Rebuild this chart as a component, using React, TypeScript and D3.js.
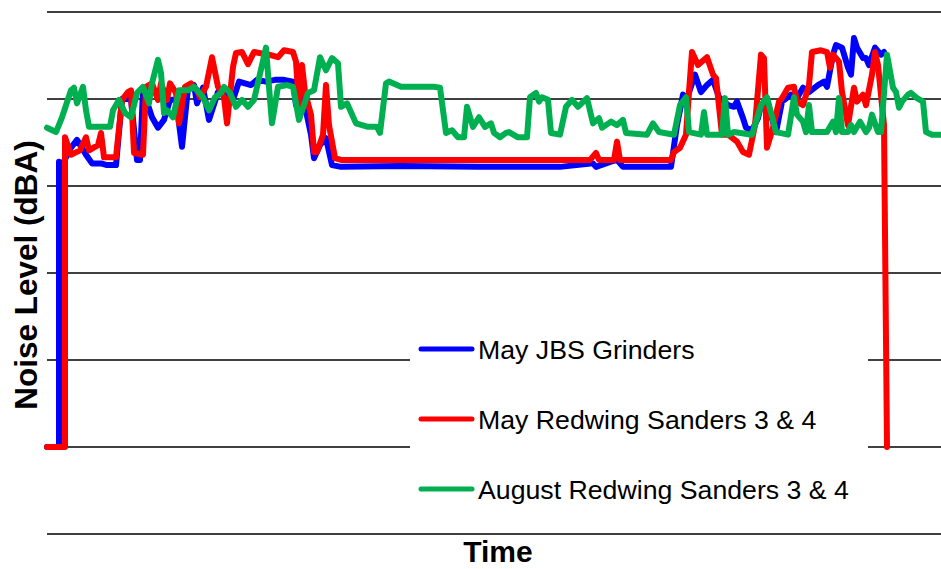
import React from "react";
import * as d3 from "d3";

// Time (minutes) and noise level (dBA)
const mayJbsGrinders: [number, number][] = [
  [0,50],[4,50],[4,82.8],[5,82.4],[8,84.4],[10,85.3],[13,83.6],[15,82.6],[18,82.6],[20,82.4],[23,82.4],
  [25,90.0],[28,90.0],[30,83.0],[31,83.0],[32,91.0],[35,87.9],[37,86.7],[39,87.6],[41,89.9],[43,89.9],
  [45,84.5],[47,91.3],[49,91.6],[50,89.5],[52,91.3],[54,87.6],[57,90.8],[59,90.5],[62,89.9],[64,92.0],
  [68,91.6],[70,92.2],[73,92.0],[76,92.2],[79,92.2],[82,92.0],[83,89.3],[85,90.8],[88,85.9],[89,83.2],
  [91,84.7],[93,85.5],[95,82.4],[98,82.2],[118,82.3],[144,82.2],[171,82.2],[182,82.6],[183,82.2],
  [188,82.8],[190,83.0],[192,82.2],[201,82.2],[208,82.2],[210,87.0],[212,90.5],[213,89.7],[216,92.8],
  [218,90.8],[220,91.6],[222,92.2],[224,90.2],[227,89.3],[229,89.1],[230,89.7],[232,87.8],[233,86.7],
  [235,86.4],[237,87.8],[238,89.3],[241,88.5],[243,86.2],[245,89.7],[248,90.5],[250,90.1],[252,91.3],
  [254,90.8],[257,91.6],[259,92.0],[260,91.4],[262,95.1],[263,96.2],[265,95.9],[267,93.6],[268,92.8],
  [269,97.0],[270,95.9],[272,94.7],[273,94.7],[274,93.9],[276,95.9],[278,95.1],[279,95.4],
];

const mayRedwing: [number, number][] = [
  [0,50],[6,50],[6,85.6],[8,83.6],[11,84.1],[13,85.6],[14,84.1],[17,84.7],[18,86.1],[19,83.3],[23,83.3],
  [25,89.9],[27,90.8],[28,91.0],[29,83.8],[32,83.6],[33,91.4],[35,91.8],[37,89.9],[38,91.8],[40,89.9],
  [41,91.8],[43,90.7],[44,87.2],[46,91.4],[48,91.8],[50,91.0],[51,90.2],[53,91.4],[55,94.8],[57,91.4],
  [59,90.2],[60,87.2],[62,93.7],[63,95.3],[65,95.4],[67,94.0],[69,95.4],[72,95.2],[74,95.1],[77,94.8],
  [79,95.6],[82,95.4],[83,94.3],[84,89.0],[85,93.9],[86,90.8],[88,88.2],[89,83.9],[90,83.9],[92,85.9],
  [93,91.6],[94,87.0],[96,83.2],[98,83.0],[134,83.0],[181,83.0],[183,83.8],[184,83.0],[189,83.0],
  [190,85.1],[191,83.0],[208,83.0],[209,83.9],[211,84.4],[213,85.9],[214,90.8],[215,95.4],[217,93.9],
  [219,94.5],[220,94.8],[222,92.8],[223,92.4],[225,85.9],[227,85.9],[230,85.1],[232,83.9],[234,83.6],
  [236,87.0],[238,95.1],[239,94.7],[240,84.4],[242,86.7],[244,89.7],[245,90.1],[247,91.3],[249,91.4],
  [250,89.7],[252,89.3],[254,91.6],[255,95.4],[258,95.6],[260,95.4],[261,93.6],[262,95.1],[264,94.3],
  [265,90.8],[267,87.0],[269,91.3],[270,89.7],[272,90.5],[273,89.3],[275,92.8],[276,95.4],[277,93.9],
  [279,87.0],[280,50],
];

const augustRedwing: [number, number][] = [
  [0,86.7],[3,86.2],[5,87.9],[8,91.0],[9,91.3],[10,89.5],[12,91.4],[13,88.7],[14,86.8],[21,86.8],
  [22,88.7],[24,89.9],[26,88.4],[28,87.9],[30,90.7],[32,91.4],[34,89.5],[35,91.8],[37,94.5],[38,93.0],
  [39,88.4],[40,88.7],[42,87.9],[44,91.0],[47,91.0],[49,91.4],[52,90.2],[54,88.7],[56,90.2],[58,90.7],
  [59,91.4],[61,90.7],[63,89.1],[65,89.9],[67,89.1],[69,89.9],[70,91.4],[73,95.9],[74,91.4],[75,87.2],
  [77,91.4],[80,91.6],[82,91.4],[84,87.6],[87,90.7],[89,91.0],[91,94.8],[93,93.3],[95,94.7],[97,94.1],
  [98,89.1],[100,89.5],[103,87.2],[107,86.8],[110,86.8],[111,86.1],[113,91.8],[114,92.0],[118,91.4],
  [124,91.4],[129,91.4],[131,91.3],[133,86.1],[135,86.4],[137,85.6],[139,85.6],[140,89.1],[142,86.8],
  [144,87.9],[146,86.8],[148,87.2],[149,86.1],[151,85.6],[153,86.1],[154,86.2],[157,85.6],[160,85.6],
  [161,90.2],[163,90.7],[164,89.7],[165,90.2],[167,89.9],[168,86.1],[171,85.9],[173,89.1],[175,89.9],
  [177,89.1],[180,90.1],[182,87.2],[184,87.8],[185,86.7],[188,87.4],[190,87.0],[192,87.6],[193,86.1],
  [200,85.9],[202,87.2],[204,86.2],[209,85.9],[211,89.3],[213,90.2],[214,86.2],[218,85.9],[219,88.5],
  [220,85.9],[225,85.9],[226,90.1],[227,85.9],[229,86.2],[235,85.9],[238,89.3],[240,90.2],[243,86.2],
  [247,85.9],[249,90.2],[250,88.2],[252,87.4],[253,86.2],[254,89.3],[255,86.2],[260,86.2],[262,87.4],
  [263,86.2],[264,90.1],[265,86.2],[267,86.2],[268,87.0],[269,86.2],[271,87.4],[273,86.2],[274,86.7],
  [275,88.2],[277,86.2],[278,86.2],[280,95.1],[282,91.3],[283,90.8],[284,89.0],[285,89.7],[287,90.5],
  [288,90.7],[290,90.1],[292,89.7],[293,86.2],[295,85.9],[298,85.9],
];

const seriesNames = ["May JBS Grinders", "May Redwing Sanders 3 & 4", "August Redwing Sanders 3 & 4"];
const seriesColors = ["#0000FF", "#FF0000", "#00B050"];
const yTicks = [40, 50, 60, 70, 80, 90, 100];

const W = 941;
const H = 569;

export default function App() {
  const x = d3.scaleLinear().domain([0, 298]).range([47, 941]);
  const y = d3.scaleLinear().domain([40, 100]).range([534, 12]);
  const line = d3
    .line<[number, number]>()
    .x((d) => x(d[0]))
    .y((d) => y(d[1]));
  const allSeries = [mayJbsGrinders, mayRedwing, augustRedwing];
  const font = "Arial, 'Liberation Sans', sans-serif";

  return (
    <svg
      width={W}
      height={H}
      style={{ position: "absolute", left: 0, top: 0, background: "#fff" }}
      fontFamily={font}
    >
      <rect x={0} y={0} width={W} height={H} fill="#fff" />
      {yTicks.map((t) => (
        <line key={t} x1={47} x2={941} y1={y(t)} y2={y(t)} stroke="#000" strokeWidth={1.6} />
      ))}
      {/* legend box */}
      <rect x={410} y={322} width={458} height={200} fill="#fff" />
      {allSeries.map((s, i) => (
        <path
          key={i}
          d={line(s) || ""}
          fill="none"
          stroke={seriesColors[i]}
          strokeWidth={6}
          strokeLinejoin="round"
          strokeLinecap="round"
        />
      ))}
      {seriesNames.map((n, i) => (
        <g key={n} transform={`translate(0, ${349 + i * 70})`}>
          <line x1={421} x2={472} y1={0} y2={0} stroke={seriesColors[i]} strokeWidth={5} strokeLinecap="round" />
          <text x={478} y={9.5} fontSize={26.7} fill="#000">
            {n}
          </text>
        </g>
      ))}
      <text x={498} y={562} fontSize={30} fontWeight="bold" textAnchor="middle" fill="#000">
        Time
      </text>
      <text
        transform="translate(37, 275) rotate(-90)"
        fontSize={31.5}
        fontWeight="bold"
        textAnchor="middle"
        fill="#000"
      >
        Noise Level (dBA)
      </text>
    </svg>
  );
}
